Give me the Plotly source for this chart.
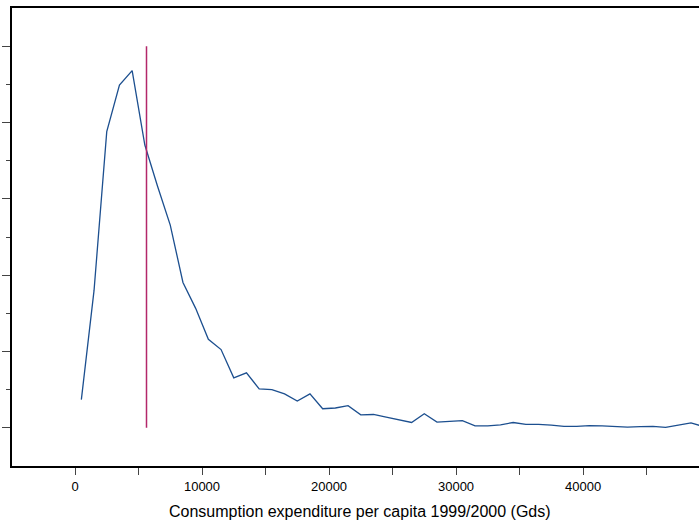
import plotly.graph_objects as go

# Data (density in units of 1e-5)
x_mid = [500, 1500, 2500, 3500, 4500, 5500, 6500, 7500, 8500, 9500,
         10500, 11500, 12500, 13500, 14500, 15500, 16500, 17500, 18500, 19500,
         20500, 21500, 22500, 23500, 24500, 25500, 26500, 27500, 28500, 29500,
         30500, 31500, 32500, 33500, 34500, 35500, 36500, 37500, 38500, 39500,
         40500, 41500, 42500, 43500, 44500, 45500, 46500, 47500, 48500, 49500]
density = [0.74, 3.60, 7.76, 8.98, 9.36, 7.41, 6.33, 5.31, 3.81, 3.13,
           2.32, 2.05, 1.31, 1.44, 1.02, 1.00, 0.89, 0.70, 0.89, 0.50,
           0.52, 0.58, 0.34, 0.35, 0.28, 0.22, 0.14, 0.37, 0.15, 0.17,
           0.19, 0.05, 0.05, 0.08, 0.14, 0.09, 0.09, 0.07, 0.04, 0.04,
           0.06, 0.05, 0.04, 0.02, 0.03, 0.04, 0.01, 0.07, 0.13, 0.03]
mean_value = 5630
mean_line_y = [0, 10]

x_major = [0, 10000, 20000, 30000, 40000]
x_minor = [5000, 15000, 25000, 35000, 45000]
y_major = [0, 2, 4, 6, 8, 10]
y_minor = [1, 3, 5, 7, 9]

fig = go.Figure()
fig.add_trace(go.Scatter(x=x_mid, y=density, mode="lines",
                         line=dict(color="#1c4f8f", width=1.3),
                         showlegend=False, hoverinfo="skip"))
fig.add_trace(go.Scatter(x=[mean_value, mean_value], y=mean_line_y, mode="lines",
                         line=dict(color="#b3276a", width=1.5),
                         showlegend=False, hoverinfo="skip"))

fig.update_layout(
    width=699, height=522,
    margin=dict(l=12, r=0, t=8, b=56),
    paper_bgcolor="white", plot_bgcolor="white",
    font=dict(family="Liberation Sans, Arial, sans-serif", color="black"),
    xaxis=dict(range=[-4960, 49130], tickvals=x_major,
               ticktext=[str(v) for v in x_major],
               ticks="outside", ticklen=7, tickwidth=1, tickcolor="#444",
               tickfont=dict(size=13, color="black"),
               showgrid=False, zeroline=False,
               showline=True, linecolor="black", linewidth=2, mirror=True,
               minor=dict(tickvals=x_minor, ticks="outside", ticklen=7,
                          tickwidth=1, tickcolor="#444", showgrid=False)),
    yaxis=dict(range=[-1.0, 11.0], tickvals=y_major, showticklabels=False,
               ticks="outside", ticklen=8, tickwidth=1, tickcolor="#444",
               showgrid=False, zeroline=False,
               showline=True, linecolor="black", linewidth=2, mirror=False,
               minor=dict(tickvals=y_minor, ticks="outside", ticklen=4,
                          tickwidth=1, tickcolor="#444", showgrid=False)),
    annotations=[dict(text="Consumption expenditure per capita 1999/2000 (Gds)",
                      xref="paper", yref="paper", x=0.5066, y=-0.0983,
                      xanchor="center", yanchor="middle", showarrow=False,
                      font=dict(size=16, color="black"))],
)

fig.write_html("out.html")
